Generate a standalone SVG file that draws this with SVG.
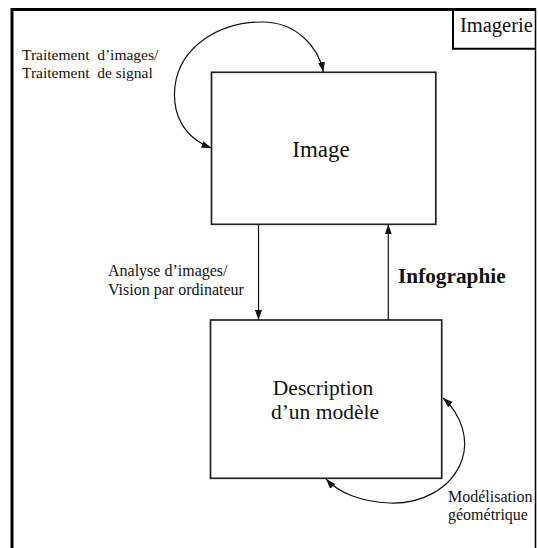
<svg xmlns="http://www.w3.org/2000/svg" width="538" height="548" viewBox="0 0 538 548" font-family="Liberation Serif, Times New Roman, serif">
<style>
.box{fill:#fff;stroke:#222;stroke-width:1.7}
.con{fill:none;stroke:#111;stroke-width:1.2}
.t{fill:#111}
</style>
<defs>
<marker id="ah" markerUnits="userSpaceOnUse" markerWidth="11" markerHeight="8" refX="10" refY="3.5" orient="auto-start-reverse">
<path d="M0,0 L10,3.5 L0,7 z" fill="#111"/>
</marker>
</defs>
<rect width="538" height="548" fill="#fff"/>
<g id="frame">
<polyline points="12,548 12,9.5 536,9.5" fill="none" stroke="#000" stroke-width="3"/>
<line x1="535.5" y1="9" x2="535.5" y2="548" stroke="#000" stroke-width="1.5"/>
</g>
<g id="imagerie">
<polyline points="453,9.5 453,48.8 536,48.8" fill="none" stroke="#000" stroke-width="2"/>
<text class="t" x="460" y="31.5" font-family="Liberation Serif, serif" font-size="20.5">Imagerie</text>
</g>
<g id="image">
<rect class="box" x="211.5" y="72.3" width="224.3" height="152"/>
<text class="t" x="321" y="156.7" text-anchor="middle" font-family="Liberation Serif, serif" font-size="23">Image</text>
</g>
<g id="description">
<rect class="box" x="210.5" y="320" width="231.2" height="158.3"/>
<text class="t" x="323" y="395" text-anchor="middle" font-family="Liberation Serif, serif" font-size="21.5">Description</text>
<text class="t" x="325" y="419.3" text-anchor="middle" font-family="Liberation Serif, serif" font-size="21.5">d’un modèle</text>
</g>
<g id="connectors">
<path class="con" d="M211.5,148 C182,137 172,112 175,86 C180,46 220,22 262,22 C296,22 318,46 323.5,72" marker-start="url(#ah)" marker-end="url(#ah)"/>
<path class="con" d="M443,398 C462,415 469,440 462,460 C451,490 420,504 390,503 C360,502 338,492 326,479" marker-start="url(#ah)" marker-end="url(#ah)"/>
<line class="con" x1="258.5" y1="224.3" x2="258.5" y2="320" marker-end="url(#ah)"/>
<line class="con" x1="388.3" y1="320" x2="388.3" y2="224.3" marker-end="url(#ah)"/>
</g>
<g id="labels" font-family="Liberation Serif, serif" font-size="16">
<text class="t" x="22" y="60" font-size="15.5" xml:space="preserve">Traitement  d’images/</text>
<text class="t" x="22" y="77.7" font-size="15.5" xml:space="preserve">Traitement  de signal</text>
<text class="t" x="108" y="276">Analyse d’images/</text>
<text class="t" x="108" y="295">Vision par ordinateur</text>
<text class="t" x="398" y="282.7" font-size="21.3" font-weight="bold">Infographie</text>
<text class="t" x="448" y="501.7">Modélisation</text>
<text class="t" x="448" y="520">géométrique</text>
</g>
</svg>
